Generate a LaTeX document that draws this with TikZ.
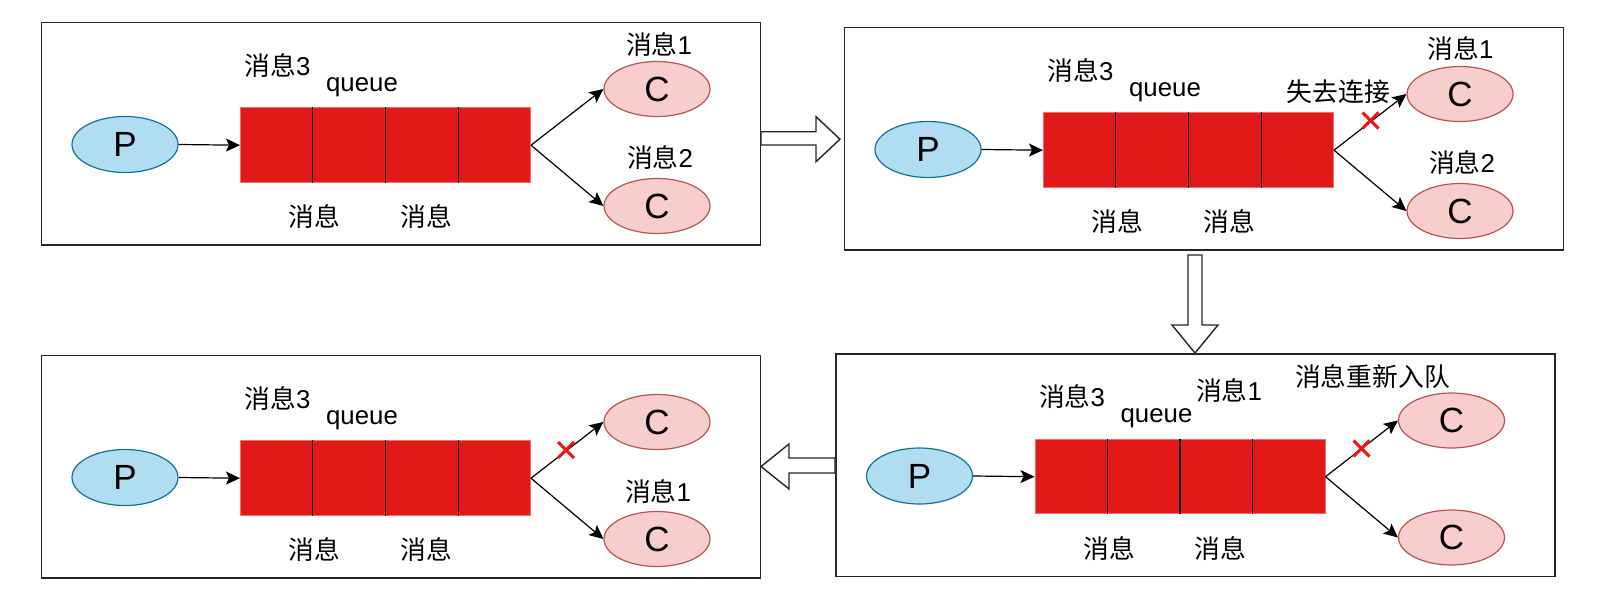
\documentclass[tikz,border=0pt]{standalone}
\usepackage{fontspec}
\setmainfont{Liberation Sans}
\newfontfamily\cjk{Noto Sans CJK SC}
\usetikzlibrary{calc,arrows.meta,shapes.geometric}
\definecolor{pfill}{HTML}{B1DDF0}
\definecolor{pdraw}{HTML}{10739E}
\definecolor{cfill}{HTML}{F8CECC}
\definecolor{cdraw}{HTML}{B85450}
\definecolor{qfill}{RGB}{226,25,25}
\definecolor{qdraw}{RGB}{240,110,110}
\definecolor{xred}{RGB}{240,20,20}
\tikzset{
  lbl/.style={font=\fontsize{12.9}{15}\selectfont, inner sep=0pt},
  pnode/.style={ellipse, draw=pdraw, fill=pfill, line width=0.6pt, minimum width=53pt, minimum height=28pt, inner sep=0pt, font=\fontsize{17.5}{20}\selectfont},
  cnode/.style={ellipse, draw=cdraw, fill=cfill, line width=0.6pt, minimum width=53pt, minimum height=27.5pt, inner sep=0pt, font=\fontsize{17.5}{20}\selectfont},
  qbox/.style={rectangle, draw=qdraw, fill=qfill, line width=0.5pt, minimum width=145pt, minimum height=37.25pt, inner sep=0pt},
  frame/.style={rectangle, draw=black!85, line width=0.75pt, minimum width=359.4pt, minimum height=111.35pt, inner sep=0pt},
  divider/.style={black, line width=0.6pt},
  conn/.style={black, line width=0.6pt, -{Stealth[length=7pt,width=6.5pt,inset=1.5pt]}},
  xmark/.style={xred, line width=1.5pt},
  blockarrow/.style={draw=black!85, fill=white, line width=0.7pt, line join=miter},
}
\newcommand\qpanel[1]{%
  \node[frame] (#1F) at (401.1,133.65) {};
  \node[pnode] (#1P) at (125,144.5) {P};
  \node[qbox] (#1Q) at (385.5,145.2) {};
  \foreach \t in {0.25,0.5,0.75}
    \draw[divider] ($(#1Q.north west)!\t!(#1Q.north east)$) -- ($(#1Q.south west)!\t!(#1Q.south east)$);
  \node[cnode] (#1C1) at (657,89) {C};
  \node[cnode] (#1C2) at (657,206) {C};
  \draw[conn] (#1P.east) -- (#1Q.west);
  \draw[conn] (#1Q.east) -- (#1C1.west);
  \draw[conn] (#1Q.east) -- (#1C2.west);
  \node[lbl] (#1m3) at (277.5,65.5) {{\cjk 消息}3};
  \node[lbl] (#1ql) at (362,87) {queue};
  \node[lbl] (#1ma) at (314.5,217) {\cjk 消息};
  \node[lbl] (#1mb) at (426,217) {\cjk 消息};
}
\newcommand\xmarkat[1]{%
  \draw[xmark] ($(#1)+(-8,-8)$) -- ($(#1)+(8,8)$);
  \draw[xmark] ($(#1)+(-8,8)$) -- ($(#1)+(8,-8)$);
}
\begin{document}
\begin{tikzpicture}[x=0.5pt,y=-0.5pt]
\useasboundingbox (0,0) rectangle (1598,610);
% panel 1
\begin{scope}
  \qpanel{a}
  \node[lbl] (am1) at (659,45) {{\cjk 消息}1};
  \node[lbl] (am2) at (660,158) {{\cjk 消息}2};
\end{scope}
% panel 2
\begin{scope}[shift={(803,5)}]
  \qpanel{b}
  \node[lbl] (bm1) at (657.5,44) {{\cjk 消息}1};
  \node[lbl] (bm2) at (659,158) {{\cjk 消息}2};
  \node[lbl] (blost) at (535.5,87) {\cjk 失去连接};
  \coordinate (bx) at (567.5,115.5);
  \xmarkat{bx}
\end{scope}
% panel 3
\begin{scope}[shift={(0,333)}]
  \qpanel{c}
  \node[lbl] (cm1) at (658,158.7) {{\cjk 消息}1};
  \coordinate (cx) at (566,117);
  \xmarkat{cx}
\end{scope}
% panel 4
\begin{scope}[shift={(794.5,331.5)}]
  \qpanel{d}
  \node[lbl] (dm1) at (434.5,59.5) {{\cjk 消息}1};
  \node[lbl] (dre) at (578,45.5) {\cjk 消息重新入队};
  \coordinate (dx) at (567,117);
  \xmarkat{dx}
\end{scope}
% block arrows
\draw[blockarrow] (761,131.7) -- (816,131.7) -- (816,116.7) -- (840,139.2) -- (816,161.7) -- (816,145) -- (761,145) -- cycle;
\draw[blockarrow] (1188,255) -- (1202,255) -- (1202,325) -- (1218,325) -- (1195,353) -- (1172,325) -- (1188,325) -- cycle;
\draw[blockarrow] (835,458) -- (789,458) -- (789,444) -- (761,466.5) -- (789,489) -- (789,473) -- (835,473) -- cycle;
\end{tikzpicture}
\end{document}
